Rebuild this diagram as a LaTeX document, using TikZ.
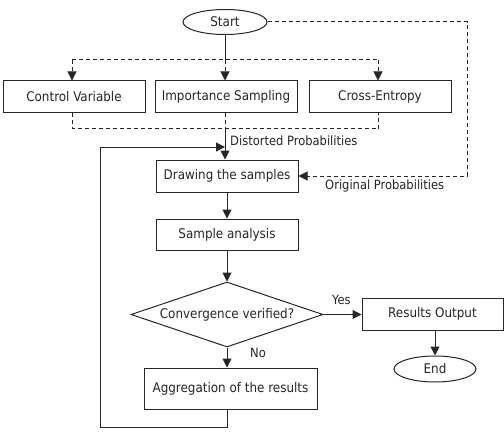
\documentclass[tikz,border=0pt]{standalone}
\usepackage{fontspec}
\setmainfont{DejaVu Sans Condensed}
\usetikzlibrary{shapes.geometric,arrows.meta}
\begin{document}
\begin{tikzpicture}[x=1pt,y=-1pt,
  every node/.style={font=\fontsize{13.3}{15}\selectfont, text=black!85},
  box/.style={draw=black!85, line width=1pt, rectangle, minimum height=32pt, inner sep=0pt},
  oval/.style={draw=black!85, line width=1pt, ellipse, inner sep=0pt},
  dec/.style={draw=black!85, line width=1pt, diamond, aspect=2.95, inner sep=0pt, minimum width=192pt, minimum height=65pt},
  link/.style={draw=black!85, line width=1pt, -{Triangle[length=9pt,width=9pt]}},
  plain/.style={draw=black!85, line width=1pt},
  dsh/.style={draw=black!85, line width=1pt, dash pattern=on 4pt off 3pt},
  lbl/.style={anchor=west, inner sep=0pt, font=\fontsize{12.8}{14}\selectfont}
]
\useasboundingbox (0,0) rectangle (504,436);
\node[oval, minimum width=84pt, minimum height=25pt] (start) at (225,22) {Start};
\node[box, minimum width=142pt] (cv) at (74,97) {Control Variable};
\node[box, minimum width=142pt] (is) at (226,97) {Importance Sampling};
\node[box, minimum width=142pt] (ce) at (380,97) {Cross-Entropy};
\node[box, minimum width=142pt] (dr) at (227,176) {Drawing the samples};
\node[box, minimum width=142pt, minimum height=31pt] (sa) at (227,234.5) {Sample analysis};
\node[dec] (cvg) at (227,314.5) {Convergence verified?};
\node[box, minimum width=141pt] (ro) at (432.5,314) {Results Output};
\node[oval, minimum width=82pt, minimum height=26pt] (end) at (435,369) {End};
\node[box, minimum width=173pt, minimum height=41pt] (agg) at (230.5,388.5) {Aggregation of the results};

\coordinate (j1) at (225,60);
\coordinate (jl) at (72,60);
\coordinate (jr) at (378,60);
\coordinate (bl) at (72,129);
\coordinate (bm) at (225,129);
\coordinate (br) at (378,129);
\coordinate (o1) at (467,22);
\coordinate (o2) at (467,176);
\coordinate (l1) at (227,427);
\coordinate (l2) at (100,427);
\coordinate (l3) at (100,147);
\coordinate (l4) at (225,147);

% start to methods
\draw[plain] (start.south) -- (j1);
\draw[dsh] (jl) -- (jr);
\draw[dsh, -{Triangle[length=9pt,width=9pt]}] (jl) -- (jl |- cv.north);
\draw[dsh, -{Triangle[length=9pt,width=9pt]}] (j1) -- (j1 |- is.north);
\draw[dsh, -{Triangle[length=9pt,width=9pt]}] (jr) -- (jr |- ce.north);
% methods to drawing
\draw[dsh] (bl |- cv.south) -- (bl) -- (br) -- (br |- ce.south);
\draw[dsh] (bm |- is.south) -- (bm);
\draw[link] (bm) -- (bm |- dr.north);
\node[lbl] (dp) at (230,141) {Distorted Probabilities};
% original probabilities
\draw[dsh, -{Triangle[length=9pt,width=9pt]}] (start.east) -- (o1) -- (o2) -- (dr.east);
\node[lbl] (op) at (325,186) {Original Probabilities};
% main flow
\draw[link] (dr.south) -- (sa.north);
\draw[link] (sa.south) -- (cvg.north);
\draw[link] (cvg.east) -- (ro.west |- cvg.east);
\node[lbl] (yes) at (332,300) {Yes};
\draw[link] (ro.south -| end.north) -- (end.north);
\draw[link] (cvg.south) -- (agg.north -| cvg.south);
\node[lbl] (no) at (250,353) {No};
% loop
\draw[link] (agg.south -| l1) -- (l1) -- (l2) -- (l3) -- (l4);
\end{tikzpicture}
\end{document}
